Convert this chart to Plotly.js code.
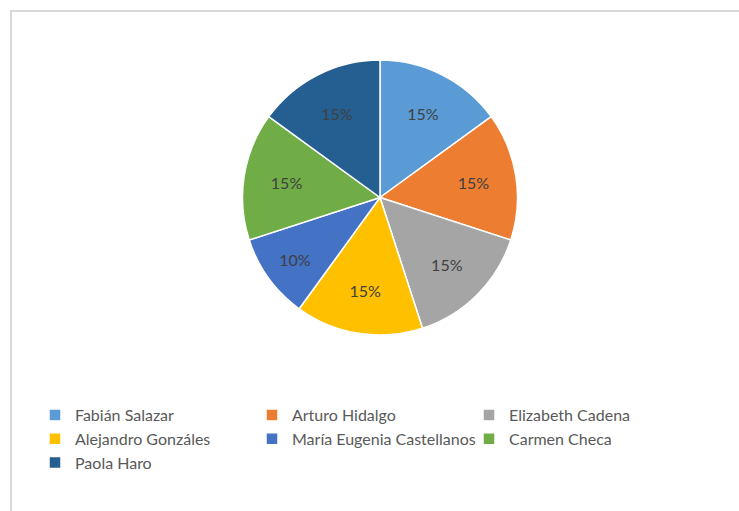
<!DOCTYPE html>
<html>
<head>
<meta charset="utf-8">
<script src="https://cdn.plot.ly/plotly-3.0.1.min.js"></script>
<style>html,body{margin:0;padding:0;background:#fff;}#chart{width:739px;height:511px;}</style>
</head>
<body>
<div id="chart"></div>
<script>
const labels = ["Fabián Salazar", "Arturo Hidalgo", "Elizabeth Cadena", "Alejandro Gonzáles", "María Eugenia Castellanos", "Carmen Checa", "Paola Haro"];
const values = [15, 15, 15, 15, 10, 15, 15];
const colors = ["#5B9BD5", "#ED7D31", "#A5A5A5", "#FFC000", "#4472C4", "#70AD47", "#255E91"];

const W = 739, H = 511;
const trace = {
  type: "pie",
  labels: labels,
  values: values,
  sort: false,
  direction: "clockwise",
  rotation: 0,
  marker: {colors: colors, line: {color: "#ffffff", width: 1.5}},
  textinfo: "percent",
  textposition: "inside",
  insidetextorientation: "horizontal",
  textfont: {family: "Lato, 'Open Sans', sans-serif", size: 16, color: "#404040"},
  domain: {x: [(380 - 140) / W, (380 + 140) / W], y: [1 - 335 / H, 1 - 60 / H]},
  hoverinfo: "label+percent"
};

const layout = {
  width: W, height: H,
  margin: {l: 0, r: 0, t: 0, b: 0},
  paper_bgcolor: "#ffffff",
  showlegend: true,
  legend: {
    orientation: "h",
    x: 35 / W, xanchor: "left",
    y: 1 - 398 / H, yanchor: "top",
    entrywidth: 172, entrywidthmode: "pixels",
    font: {family: "Lato, 'Open Sans', sans-serif", size: 16, color: "#595959"},
    traceorder: "normal"
  },
  shapes: [{
    type: "rect", xref: "paper", yref: "paper",
    x0: 11 / W, x1: 1.05, y0: -0.05, y1: 1 - 11 / H,
    line: {color: "#d9d9d9", width: 2}, fillcolor: "rgba(0,0,0,0)", layer: "below"
  }]
};

Plotly.newPlot("chart", [trace], layout, {displayModeBar: false, staticPlot: true});
</script>
</body>
</html>
